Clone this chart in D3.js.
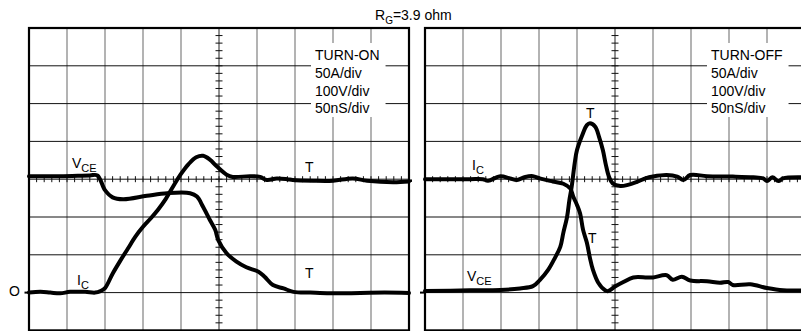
<!DOCTYPE html>
<html>
<head>
<meta charset="utf-8">
<script src="https://cdn.jsdelivr.net/npm/d3@7/dist/d3.min.js"></script>
<style>
  body { margin: 0; background: #fff; }
  svg { display: block; }
  text { font-family: "Liberation Sans", Arial, Helvetica, sans-serif; fill: #000; }
</style>
</head>
<body>
<svg id="chart" width="801" height="331"></svg>
<script>
// Switching waveforms, R_G = 3.9 ohm. Time in ns, current in A, voltage in V.
// Scope settings: 50 A/div, 100 V/div, 50 ns/div; both channel grounds 3 div below centre.
const title = "=3.9 ohm";
const settingsOn = ["TURN-ON", "50A/div", "100V/div", "50nS/div"];
const settingsOff = ["TURN-OFF", "50A/div", "100V/div", "50nS/div"];

// Turn-on: collector-emitter voltage [t ns, V]
const turnOnVce = [
  [0, 308], [41, 308], [80, 310], [90, 310], [100, 271], [110, 252], [124, 247],
  [155, 256], [182, 263], [212, 263], [221, 254], [229, 227], [238, 192], [245, 166],
  [249, 139], [260, 104], [273, 82], [286, 67], [302, 55], [310, 42], [321, 20],
  [335, 11], [348, 2], [370, 0], [396, -2], [436, -1], [468, 0], [500, -1]
];
// Turn-on: collector current [t ns, A]
const turnOnIc = [
  [0, 0], [15, 1], [28, 0], [41, -1], [54, 1], [74, 1], [87, 0], [94, 2], [100, 6],
  [110, 25], [120, 42], [130, 58], [140, 74], [150, 87], [160, 98], [170, 110],
  [180, 124], [190, 141], [200, 157], [210, 170], [220, 179], [229, 181], [238, 176],
  [247, 167], [260, 156], [268, 153], [291, 154], [304, 153], [313, 149], [326, 151],
  [340, 150], [347, 149], [374, 148], [400, 148], [426, 151], [445, 148], [479, 146],
  [500, 147]
];
// Turn-off: collector-emitter voltage [t ns, V]
const turnOffVce = [
  [0, 4], [59, 6], [99, 7], [125, 11], [142, 17], [151, 33], [162, 60], [171, 92],
  [178, 121], [182, 158], [187, 201], [190, 245], [193, 280], [197, 343], [200, 377],
  [207, 417], [213, 443], [217, 448], [224, 439], [229, 412], [234, 377], [238, 338],
  [242, 307], [247, 289], [257, 282], [267, 285], [279, 293], [290, 302], [300, 307],
  [318, 311], [332, 307], [340, 298], [349, 311], [371, 308], [405, 307], [432, 305],
  [445, 302], [450, 295], [457, 305], [465, 295], [471, 302], [495, 305], [500, 305]
];
// Turn-off: collector current [t ns, A]
const turnOffIc = [
  [0, 150], [59, 150], [76, 150], [83, 148], [99, 154], [112, 151], [121, 149],
  [132, 153], [142, 154], [151, 151], [168, 147], [182, 144], [191, 138], [195, 127],
  [200, 116], [204, 105], [208, 83], [213, 66], [217, 46], [221, 30], [228, 13],
  [237, 3], [241, 2], [250, 8], [261, 14], [274, 20], [292, 20], [300, 20], [318, 23],
  [326, 17], [338, 21], [349, 16], [371, 15], [388, 13], [399, 14], [405, 10],
  [428, 11], [450, 6], [471, 3], [500, 3]
];

const svg = d3.select("#chart");
const W = 380, H = 302.4, TOP = 28;

function drawPanel(x0, settings, vce, ic, labels) {
  const g = svg.append("g");
  const x = d3.scaleLinear().domain([0, 500]).range([x0, x0 + W]);
  const div = d3.scaleLinear().domain([-4, 4]).range([TOP + H, TOP]);
  const yA = d3.scaleLinear().domain([-50, 350]).range([TOP + H, TOP]);
  const yV = d3.scaleLinear().domain([-100, 700]).range([TOP + H, TOP]);

  // graticule: vertical divisions grey, horizontal divisions black
  const grid = g.append("g");
  d3.range(1, 10).forEach(i => {
    grid.append("line")
      .attr("x1", x(i * 50)).attr("x2", x(i * 50))
      .attr("y1", TOP).attr("y2", TOP + H)
      .attr("stroke", i === 5 ? "#222" : "#808080").attr("stroke-width", i === 5 ? 1 : 1.2);
  });
  d3.range(-3, 4).forEach(j => {
    grid.append("line")
      .attr("x1", x0).attr("x2", x0 + W)
      .attr("y1", div(j)).attr("y2", div(j))
      .attr("stroke", "#111").attr("stroke-width", 1);
  });
  // minor ticks on the centre axes
  d3.range(1, 50).forEach(k => {
    grid.append("line")
      .attr("x1", x(k * 10)).attr("x2", x(k * 10))
      .attr("y1", div(0) - 3).attr("y2", div(0) + 3)
      .attr("stroke", "#111").attr("stroke-width", 1);
  });
  d3.range(-19, 20).forEach(k => {
    grid.append("line")
      .attr("x1", x(250) - 3.5).attr("x2", x(250) + 3.5)
      .attr("y1", div(k / 5)).attr("y2", div(k / 5))
      .attr("stroke", "#111").attr("stroke-width", 1);
  });

  // scope settings block
  const box = g.append("g");
  const tx = x0 + 286;
  settings.forEach((s, i) => {
    box.append("text").attr("x", tx).attr("y", 60 + i * 17.8)
      .attr("font-size", 14).text(s);
  });
  const bb = box.node().getBBox();
  box.insert("rect", "text")
    .attr("x", bb.x - 4).attr("y", 43).attr("width", bb.width + 10).attr("height", 74)
    .attr("fill", "#fff");

  // channel labels
  labels.forEach(l => {
    const lg = g.append("g");
    const t = lg.append("text").attr("x", l.x).attr("y", l.y).attr("font-size", 14);
    t.append("tspan").text(l.main);
    if (l.sub) t.append("tspan").attr("dy", 3.5).attr("font-size", 11).text(l.sub);
    if (l.bg) {
      const b = t.node().getBBox();
      lg.insert("rect", "text").attr("x", b.x - 1).attr("y", b.y + 2)
        .attr("width", b.width + 2).attr("height", b.height - 2).attr("fill", "#fff");
    }
  });

  // traces
  const clipId = "clip" + x0;
  svg.append("clipPath").attr("id", clipId).append("rect")
    .attr("x", x0 - 4).attr("y", TOP).attr("width", W + 8).attr("height", H);
  const traces = g.append("g").attr("clip-path", `url(#${clipId})`);
  const curve = d3.curveCatmullRom.alpha(0.5);
  const lineV = d3.line().x(d => x(d[0])).y(d => yV(d[1])).curve(curve);
  const lineA = d3.line().x(d => x(d[0])).y(d => yA(d[1])).curve(curve);
  [[vce, lineV], [ic, lineA]].forEach(([data, gen]) => {
    traces.append("path").datum(data).attr("d", gen)
      .attr("fill", "none").attr("stroke", "#000").attr("stroke-width", 4)
      .attr("stroke-linejoin", "round").attr("stroke-linecap", "round");
  });

  // frame
  g.append("rect").attr("x", x0).attr("y", TOP).attr("width", W).attr("height", H)
    .attr("fill", "none").attr("stroke", "#000").attr("stroke-width", 2.2);

  return { x, div };
}

// title
const tt = svg.append("text").attr("x", 375).attr("y", 20).attr("font-size", 14);
tt.append("tspan").text("R");
tt.append("tspan").attr("dy", 4).attr("font-size", 10).text("G");
tt.append("tspan").attr("dy", -4).text(title);

const left = drawPanel(29, settingsOn, turnOnVce, turnOnIc, [
  { x: 72, y: 168, main: "V", sub: "CE" },
  { x: 77, y: 285, main: "I", sub: "C" },
  { x: 305, y: 172, main: "T" },
  { x: 305, y: 278, main: "T" }
]);
const right = drawPanel(425, settingsOff, turnOffVce, turnOffIc, [
  { x: 467, y: 281, main: "V", sub: "CE", bg: true },
  { x: 472, y: 170, main: "I", sub: "C", bg: true },
  { x: 586, y: 118, main: "T" },
  { x: 588, y: 243, main: "T" }
]);

// ground reference markers
svg.append("text").attr("x", 9).attr("y", 296).attr("font-size", 14).text("O");
svg.append("line").attr("x1", 24.5).attr("x2", 29).attr("y1", left.div(-3)).attr("y2", left.div(-3))
  .attr("stroke", "#000").attr("stroke-width", 2);
svg.append("line").attr("x1", 420).attr("x2", 425).attr("y1", right.div(-3)).attr("y2", right.div(-3))
  .attr("stroke", "#000").attr("stroke-width", 2);
svg.append("line").attr("x1", 409).attr("x2", 412).attr("y1", left.div(0) + 1.5).attr("y2", left.div(0) + 1.5)
  .attr("stroke", "#000").attr("stroke-width", 2.5);
</script>
</body>
</html>
